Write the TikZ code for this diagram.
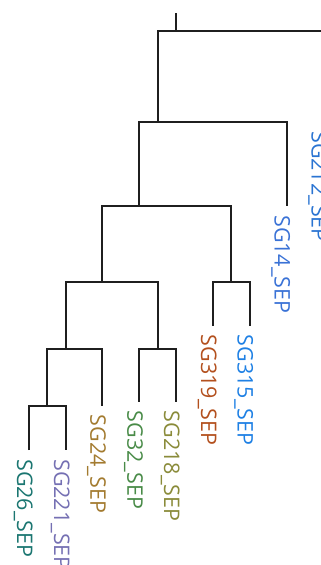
\documentclass[tikz,border=0pt]{standalone}
\usepackage{fontspec}
\setmainfont{Open Sans}
\usetikzlibrary{calc}
\definecolor{cTeal}{HTML}{1B7671}
\definecolor{cPurple}{HTML}{7570B3}
\definecolor{cBrown}{HTML}{A37B30}
\definecolor{cGreen}{HTML}{498B48}
\definecolor{cOlive}{HTML}{8A8B3A}
\definecolor{cRust}{HTML}{B3501E}
\definecolor{cBlueA}{HTML}{1E80E4}
\definecolor{cBlueB}{HTML}{3A72D6}
\definecolor{cBlueC}{HTML}{2A74D2}
\tikzset{
  branch/.style={line width=1.7pt, draw=black!88},
  leaflab/.style={rotate=-90, anchor=base west, inner sep=0pt,
    font=\fontsize{21.5}{24}\selectfont}
}
\begin{document}
\begin{tikzpicture}[x=1pt, y=-1pt]
  \clip (0,0) rectangle (321,565);
  \useasboundingbox (0,0) rectangle (321,565);
  % leaf tips
  \coordinate (L1) at (29,450);
  \coordinate (L2) at (66,450);
  \coordinate (L3) at (102.3,405.7);
  \coordinate (L4) at (139.3,401.7);
  \coordinate (L5) at (176,401.7);
  \coordinate (L6) at (213,325.7);
  \coordinate (L7) at (249.7,325.7);
  \coordinate (L8) at (286.7,206);
  \coordinate (L9) at (323.7,122);
  % merge points (stem x, bar height)
  \coordinate (m1) at (47.3,405.7);
  \coordinate (m2) at (66,349);
  \coordinate (m3) at (158,349);
  \coordinate (m4) at (102.3,281.7);
  \coordinate (m5) at (231.3,281.7);
  \coordinate (m6) at (139.3,206);
  \coordinate (m7) at (158,122.3);
  \coordinate (m8) at (176.3,30.7);
  \coordinate (top) at (176.3,12.7);
  % branches
  \draw[branch] (L1) |- (m1) -| (L2);
  \draw[branch] (m1) |- (m2) -| (L3);
  \draw[branch] (L4) |- (m3) -| (L5);
  \draw[branch] (m2) |- (m4) -| (m3);
  \draw[branch] (L6) |- (m5) -| (L7);
  \draw[branch] (m4) |- (m6) -| (m5);
  \draw[branch] (m6) |- (m7) -| (L8);
  \draw[branch] (m7) |- (m8) -| (L9);
  \draw[branch] (m8) -- (top);
  % leaf labels
  \node[leaflab, text=cTeal]   (t1) at ($(L1)+(-12,9)$) {SG26\_SEP};
  \node[leaflab, text=cPurple] (t2) at ($(L2)+(-12,9)$) {SG221\_SEP};
  \node[leaflab, text=cBrown]  (t3) at ($(L3)+(-12,9)$) {SG24\_SEP};
  \node[leaflab, text=cGreen]  (t4) at ($(L4)+(-12,9)$) {SG32\_SEP};
  \node[leaflab, text=cOlive]  (t5) at ($(L5)+(-12,9)$) {SG218\_SEP};
  \node[leaflab, text=cRust]   (t6) at ($(L6)+(-12,9)$) {SG319\_SEP};
  \node[leaflab, text=cBlueA]  (t7) at ($(L7)+(-12,9)$) {SG315\_SEP};
  \node[leaflab, text=cBlueB]  (t8) at ($(L8)+(-12,9)$) {SG14\_SEP};
  \node[leaflab, text=cBlueC]  (t9) at ($(L9)+(-12,9)$) {SG212\_SEP};
\end{tikzpicture}
\end{document}
